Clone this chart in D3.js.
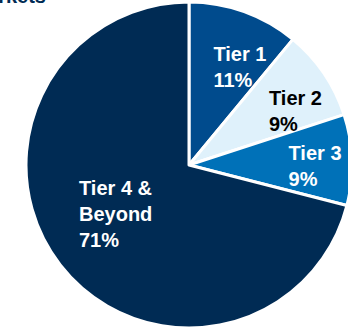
<!DOCTYPE html>
<html><head><meta charset="utf-8">
<script src="https://cdn.jsdelivr.net/npm/d3@7"></script>
<style>html,body{margin:0;padding:0;background:#fff;overflow:hidden}</style>
</head><body>
<svg id="chart" width="348" height="329"></svg>
<script>
const categories = ["Tier 1", "Tier 2", "Tier 3", "Tier 4 & Beyond"];
const values = [11, 9, 9, 71];
const labelLines = [["Tier 1", "11%"], ["Tier 2", "9%"], ["Tier 3", "9%"], ["Tier 4 &", "Beyond", "71%"]];
const colors = ["#004b8d", "#dff1fb", "#0071b8", "#002b54"];
const textColors = ["#ffffff", "#000000", "#ffffff", "#ffffff"];
const labelNudge = [[-12, -3], [-9, 0], [-8, -2], [-25, -36]];
const title = "Markets";

const svg = d3.select("#chart");
const cx = 189, cy = 165, R = 163;
const g = svg.append("g").attr("transform", `translate(${cx},${cy})`);

const pie = d3.pie().sort(null).value(d => d);
const arcs = pie(values);
const arc = d3.arc().innerRadius(0).outerRadius(R);
const labelArc = d3.arc().innerRadius(R * 0.66).outerRadius(R * 0.66);

g.selectAll("path").data(arcs).join("path")
  .attr("d", arc)
  .attr("fill", (d, i) => colors[i])
  .attr("stroke", "#ffffff")
  .attr("stroke-width", 3)
  .attr("stroke-linejoin", "round");

g.selectAll("text.lbl").data(arcs).join("text")
  .attr("class", "lbl")
  .attr("font-family", "Liberation Sans, Arial, sans-serif")
  .attr("font-weight", "bold")
  .attr("font-size", 20)
  .attr("fill", (d, i) => textColors[i])
  .each(function(d, i) {
    const [x, y] = labelArc.centroid(d);
    const t = d3.select(this);
    labelLines[i].forEach((line, j) => {
      t.append("tspan")
        .attr("x", x + labelNudge[i][0])
        .attr("y", y + labelNudge[i][1] + j * 26)
        .text(line);
    });
  });

svg.append("text")
  .attr("x", 46).attr("y", 3)
  .attr("text-anchor", "end")
  .attr("font-family", "Liberation Sans, Arial, sans-serif")
  .attr("font-weight", "bold")
  .attr("font-size", 20)
  .attr("fill", "#002b54")
  .text(title);
</script>
</body></html>
